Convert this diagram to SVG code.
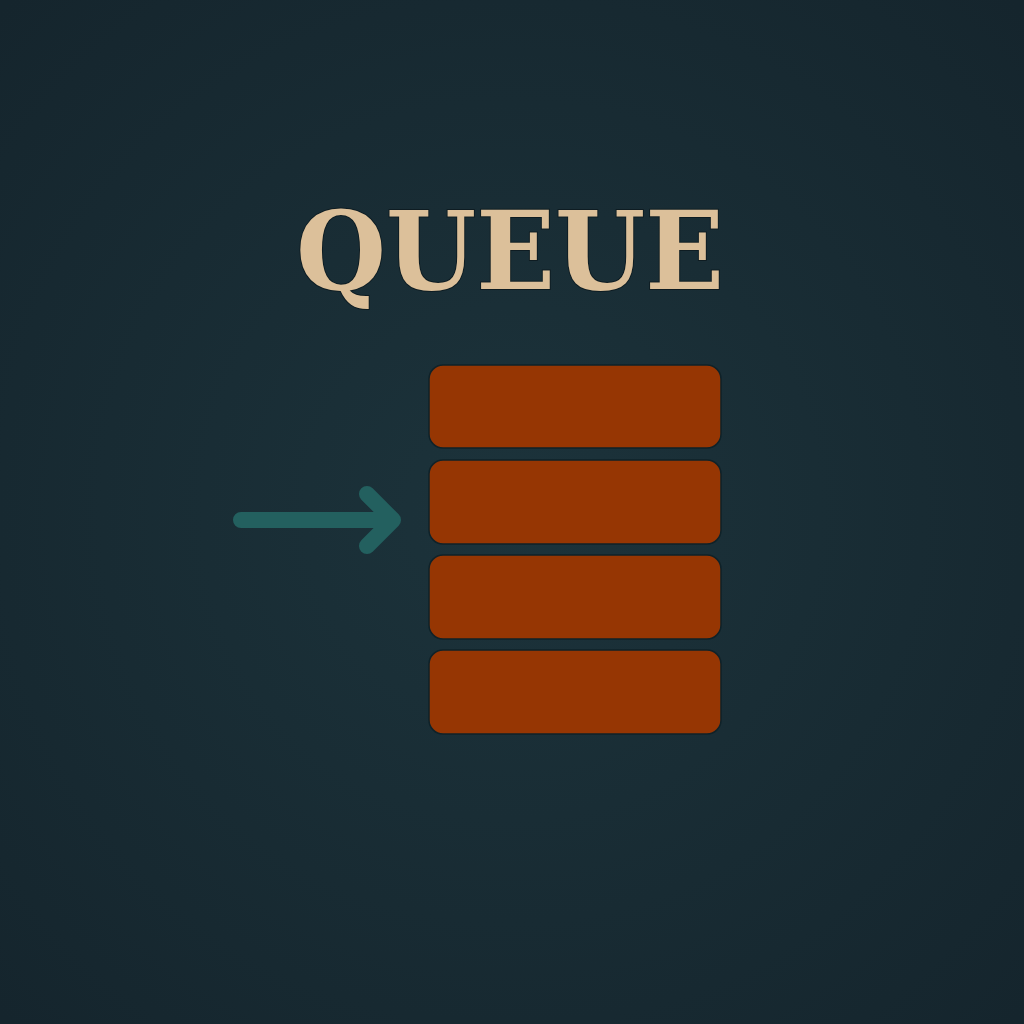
<svg xmlns="http://www.w3.org/2000/svg" width="1024" height="1024" viewBox="0 0 1024 1024">
<defs>
<radialGradient id="bg" cx="50%" cy="50%" r="70%">
<stop offset="0" stop-color="#1c333b"/>
<stop offset="1" stop-color="#15252d"/>
</radialGradient>
<style>
.slot{fill:#963603;stroke:#0f2229;stroke-width:1.5}
.title{font-family:"DejaVu Serif","Liberation Serif",serif;font-weight:bold;font-size:108px;fill:#dcc09a;stroke:#0e1c22;stroke-width:2;paint-order:stroke}
.arrow{fill:none;stroke:#23605f;stroke-width:16;stroke-linecap:round;stroke-linejoin:round}
</style>
</defs>
<rect width="1024" height="1024" fill="url(#bg)"/>
<g id="title"><text class="title" x="510" y="289" text-anchor="middle" textLength="428" lengthAdjust="spacingAndGlyphs">QUEUE</text></g>
<g id="slot1"><rect class="slot" x="429" y="365" width="292" height="83" rx="14"/></g>
<g id="slot2"><rect class="slot" x="429" y="460" width="292" height="84" rx="14"/></g>
<g id="slot3"><rect class="slot" x="429" y="555" width="292" height="84" rx="14"/></g>
<g id="slot4"><rect class="slot" x="429" y="650" width="292" height="84" rx="14"/></g>
<g id="connectors">
<path class="arrow" d="M241 520 H392 M367 494 L393 520 L367 546"/>
</g>
</svg>
